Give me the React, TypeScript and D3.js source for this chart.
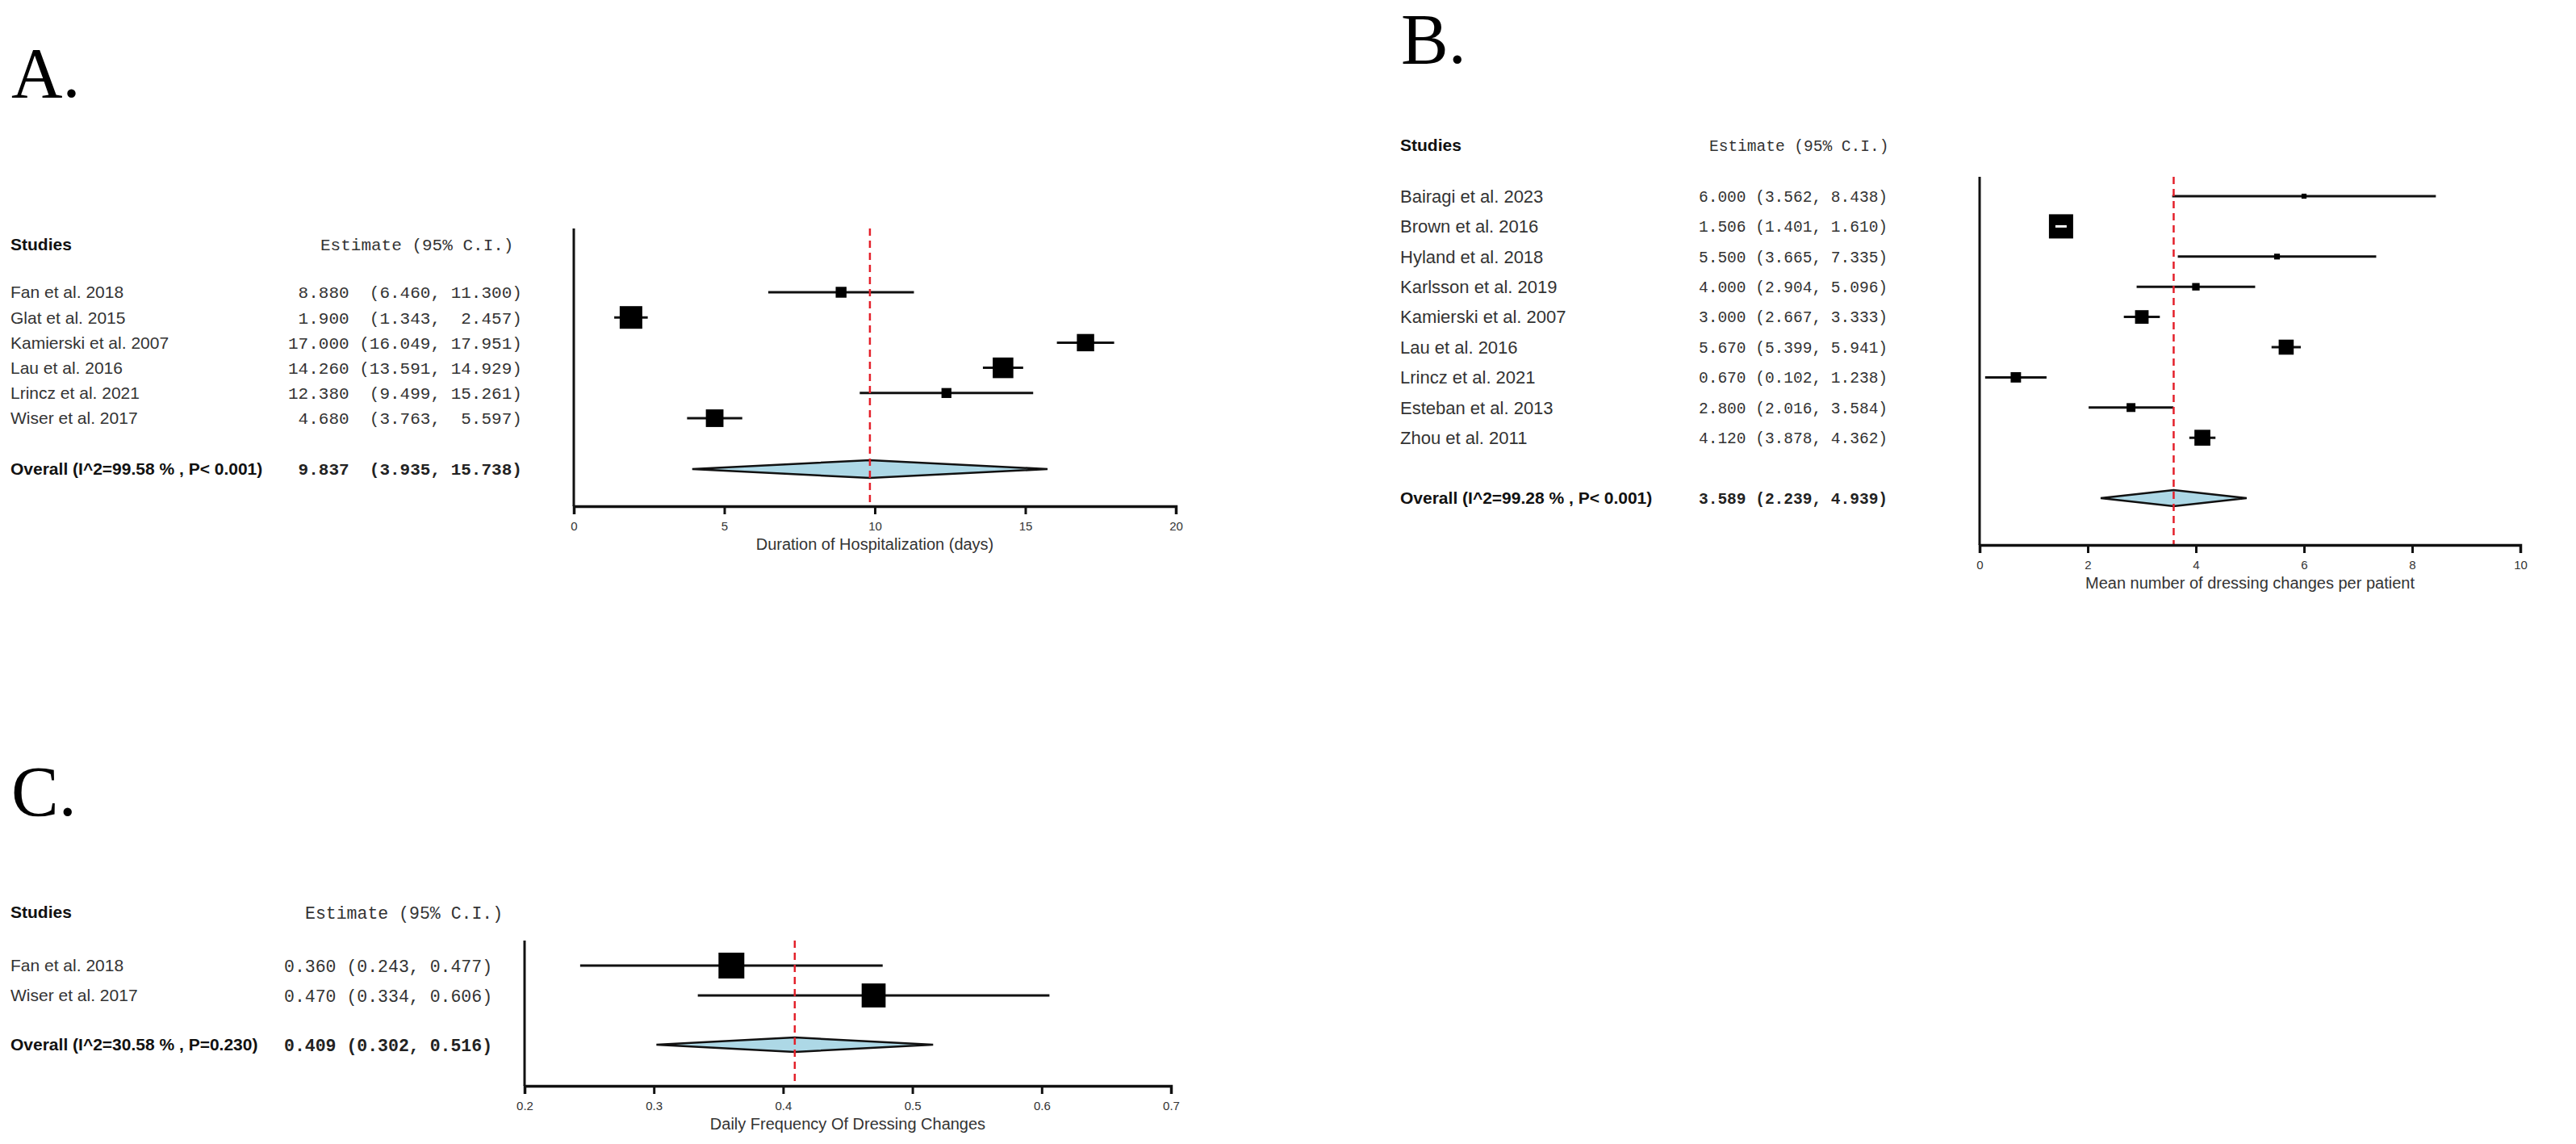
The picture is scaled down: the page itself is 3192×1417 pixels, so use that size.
import { useEffect, useRef } from 'react';
import * as d3 from 'd3';

// Panel A: duration of hospitalization
const aStudies = ['Fan et al.  2018', 'Glat et al.  2015', 'Kamierski et al.  2007', 'Lau et al.  2016', 'Lrincz et al.  2021', 'Wiser et al.  2017'];
const aEstimate = [8.88, 1.9, 17.0, 14.26, 12.38, 4.68];
const aLower = [6.46, 1.343, 16.049, 13.591, 9.499, 3.763];
const aUpper = [11.3, 2.457, 17.951, 14.929, 15.261, 5.597];
const aOverall = [9.837, 3.935, 15.738];
const aOverallLabel = 'Overall (I^2=99.58 % , P< 0.001)';
const aTicks = [0, 5, 10, 15, 20];
const aTitle = 'Duration of Hospitalization (days)';

// Panel B: dressing changes per patient
const bStudies = ['Bairagi et al.  2023', 'Brown et al.  2016', 'Hyland et al.  2018', 'Karlsson et al.  2019', 'Kamierski et al.  2007', 'Lau et al.  2016', 'Lrincz et al.  2021', 'Esteban et al.  2013', 'Zhou et al.  2011'];
const bEstimate = [6.0, 1.506, 5.5, 4.0, 3.0, 5.67, 0.67, 2.8, 4.12];
const bLower = [3.562, 1.401, 3.665, 2.904, 2.667, 5.399, 0.102, 2.016, 3.878];
const bUpper = [8.438, 1.61, 7.335, 5.096, 3.333, 5.941, 1.238, 3.584, 4.362];
const bOverall = [3.589, 2.239, 4.939];
const bOverallLabel = 'Overall (I^2=99.28 % , P< 0.001)';
const bTicks = [0, 2, 4, 6, 8, 10];
const bTitle = 'Mean number of dressing changes per patient';

// Panel C: daily frequency
const cStudies = ['Fan et al.  2018', 'Wiser et al.  2017'];
const cEstimate = [0.36, 0.47];
const cLower = [0.243, 0.334];
const cUpper = [0.477, 0.606];
const cOverall = [0.409, 0.302, 0.516];
const cOverallLabel = 'Overall (I^2=30.58 % , P=0.230)';
const cTicks = [0.2, 0.3, 0.4, 0.5, 0.6, 0.7];
const cTitle = 'Daily Frequency Of Dressing Changes';

const SANS = '"Liberation Sans", Arial, Helvetica, sans-serif';
const MONO = '"Courier New", "Liberation Mono", monospace';
const SERIF = '"Liberation Serif", "Times New Roman", serif';

interface PanelProps {
  label: string;
  labelX: number;
  labelY: number;
  studies: string[];
  est: number[];
  lo: number[];
  hi: number[];
  overall: number[];
  overallLabel: string;
  ticks: number[];
  title: string;
  textX: number;
  valueX: number;
  headerEstX: number;
  headerY: number;
  firstRowY: number;
  rowStep: number;
  overallY: number;
  plotLeft: number;
  plotRight: number;
  plotTop: number;
  baseY: number;
  maxBox: number;
  diamondH: number;
  nameSize: number;
  monoSize: number;
}

const ForestPanel = (p: PanelProps): JSX.Element => {
  const axisRef = useRef<SVGGElement>(null);

  const x = d3.scaleLinear([p.ticks[0], p.ticks[p.ticks.length - 1]], [p.plotLeft, p.plotRight]);
  const y = d3.scaleLinear([0, 1], [p.firstRowY, p.firstRowY + p.rowStep]);

  // box area follows precision (1/SE)
  const prec = p.lo.map((l, i) => 3.92 / (p.hi[i] - l));
  const box = d3.scaleSqrt([0, d3.max(prec) as number], [0, p.maxBox]);

  const fmt = (v: number) => v.toFixed(3);
  const w = d3.max([...p.est, ...p.lo, ...p.hi, ...p.overall].map((v) => fmt(v).length)) as number;
  const row = (e: number, l: number, h: number) =>
    fmt(e).padStart(w) + ' ' + ('(' + fmt(l)).padStart(w + 1) + ', ' + fmt(h).padStart(w) + ')';

  useEffect(() => {
    const g = d3.select(axisRef.current);
    g.selectAll('*').remove();
    g.call(
      d3
        .axisBottom(x)
        .tickValues(p.ticks)
        .tickSize(10)
        .tickSizeOuter(10)
        .tickPadding(9)
        .tickFormat((d) => String(d))
    );
    g.select('.domain').attr('stroke', '#111').attr('stroke-width', 3.5);
    g.selectAll('.tick line').attr('stroke', '#111').attr('stroke-width', 3);
    g.selectAll('.tick text').attr('font-family', SANS).attr('font-size', 15).attr('fill', '#333');
  }, [p.ticks, p.plotLeft, p.plotRight]);

  const ov = p.overall;
  const dh = p.diamondH / 2;
  const diamond = d3.line()([
    [x(ov[1]), p.overallY],
    [x(ov[0]), p.overallY - dh],
    [x(ov[2]), p.overallY],
    [x(ov[0]), p.overallY + dh]
  ]) + 'Z';

  return (
    <g>
      <text x={p.labelX} y={p.labelY} fontFamily={SERIF} fontSize={88} fill="#000">
        {p.label}
      </text>

      <text x={p.textX} y={p.headerY} dy="0.35em" fontFamily={SANS} fontWeight="bold" fontSize={21} fill="#111">
        Studies
      </text>
      <text x={p.headerEstX} y={p.headerY} dy="0.35em" fontFamily={MONO} fontSize={p.monoSize} fill="#333" style={{ whiteSpace: 'pre' }}>
        Estimate (95% C.I.)
      </text>

      {p.studies.map((s, i) => (
        <g key={s}>
          <text x={p.textX} y={y(i)} dy="0.35em" fontFamily={SANS} fontSize={p.nameSize} fill="#333">
            {s}
          </text>
          <text x={p.valueX} y={y(i)} dy="0.35em" fontFamily={MONO} fontSize={p.monoSize} fill="#333" style={{ whiteSpace: 'pre' }}>
            {row(p.est[i], p.lo[i], p.hi[i])}
          </text>
        </g>
      ))}

      <text x={p.textX} y={p.overallY} dy="0.35em" fontFamily={SANS} fontWeight="bold" fontSize={21} fill="#111">
        {p.overallLabel}
      </text>
      <text x={p.valueX} y={p.overallY} dy="0.35em" fontFamily={MONO} fontWeight="bold" fontSize={p.monoSize} fill="#222" style={{ whiteSpace: 'pre' }}>
        {row(ov[0], ov[1], ov[2])}
      </text>

      {/* left axis line */}
      <line x1={p.plotLeft} x2={p.plotLeft} y1={p.plotTop} y2={p.baseY} stroke="#111" strokeWidth={3} />

      {p.est.map((e, i) => {
        const s = box(prec[i]);
        const narrow = x(p.hi[i]) - x(p.lo[i]) < s;
        return (
          <g key={i}>
            <line x1={x(p.lo[i])} x2={x(p.hi[i])} y1={y(i)} y2={y(i)} stroke="#111" strokeWidth={3} />
            <rect x={x(e) - s / 2} y={y(i) - s / 2} width={s} height={s} fill="#000" />
            {narrow && (
              <line x1={x(p.lo[i])} x2={x(p.hi[i])} y1={y(i)} y2={y(i)} stroke="#fff" strokeWidth={3} />
            )}
          </g>
        );
      })}

      <path d={diamond} fill="#add8e6" stroke="#111" strokeWidth={2.5} strokeLinejoin="miter" />

      <line
        x1={x(ov[0])}
        x2={x(ov[0])}
        y1={p.plotTop}
        y2={p.baseY}
        stroke="#e3202a"
        strokeWidth={2.5}
        strokeDasharray="9,6"
      />

      <g ref={axisRef} transform={`translate(0,${p.baseY})`} />
      <text
        x={(p.plotLeft + p.plotRight) / 2}
        y={p.baseY + 54}
        textAnchor="middle"
        fontFamily={SANS}
        fontSize={20}
        fill="#333"
      >
        {p.title}
      </text>
    </g>
  );
};

const App = (): JSX.Element => {
  return (
    <svg
      width={3192}
      height={1417}
      viewBox="0 0 3192 1417"
      style={{ position: 'absolute', left: 0, top: 0, background: '#fff' }}
    >
      <rect width={3192} height={1417} fill="#fff" />
      <ForestPanel
        label="A."
        labelX={14}
        labelY={120}
        studies={aStudies}
        est={aEstimate}
        lo={aLower}
        hi={aUpper}
        overall={aOverall}
        overallLabel={aOverallLabel}
        ticks={aTicks}
        title={aTitle}
        textX={13}
        valueX={357}
        headerEstX={397}
        headerY={303}
        firstRowY={362}
        rowStep={31.2}
        overallY={581}
        plotLeft={711}
        plotRight={1457}
        plotTop={283}
        baseY={627}
        maxBox={28}
        diamondH={22}
        nameSize={21}
        monoSize={21}
      />
      <ForestPanel
        label="B."
        labelX={1736}
        labelY={78}
        studies={bStudies}
        est={bEstimate}
        lo={bLower}
        hi={bUpper}
        overall={bOverall}
        overallLabel={bOverallLabel}
        ticks={bTicks}
        title={bTitle}
        textX={1735}
        valueX={2105}
        headerEstX={2118}
        headerY={180}
        firstRowY={243}
        rowStep={37.4}
        overallY={617}
        plotLeft={2453}
        plotRight={3123}
        plotTop={219}
        baseY={675}
        maxBox={30}
        diamondH={20}
        nameSize={22}
        monoSize={19.5}
      />
      <ForestPanel
        label="C."
        labelX={14}
        labelY={1010}
        studies={cStudies}
        est={cEstimate}
        lo={cLower}
        hi={cUpper}
        overall={cOverall}
        overallLabel={cOverallLabel}
        ticks={cTicks}
        title={cTitle}
        textX={13}
        valueX={352}
        headerEstX={378}
        headerY={1130}
        firstRowY={1196}
        rowStep={37}
        overallY={1294}
        plotLeft={650}
        plotRight={1451}
        plotTop={1165}
        baseY={1345}
        maxBox={32}
        diamondH={18}
        nameSize={21}
        monoSize={21.5}
      />
    </svg>
  );
};

export default App;
